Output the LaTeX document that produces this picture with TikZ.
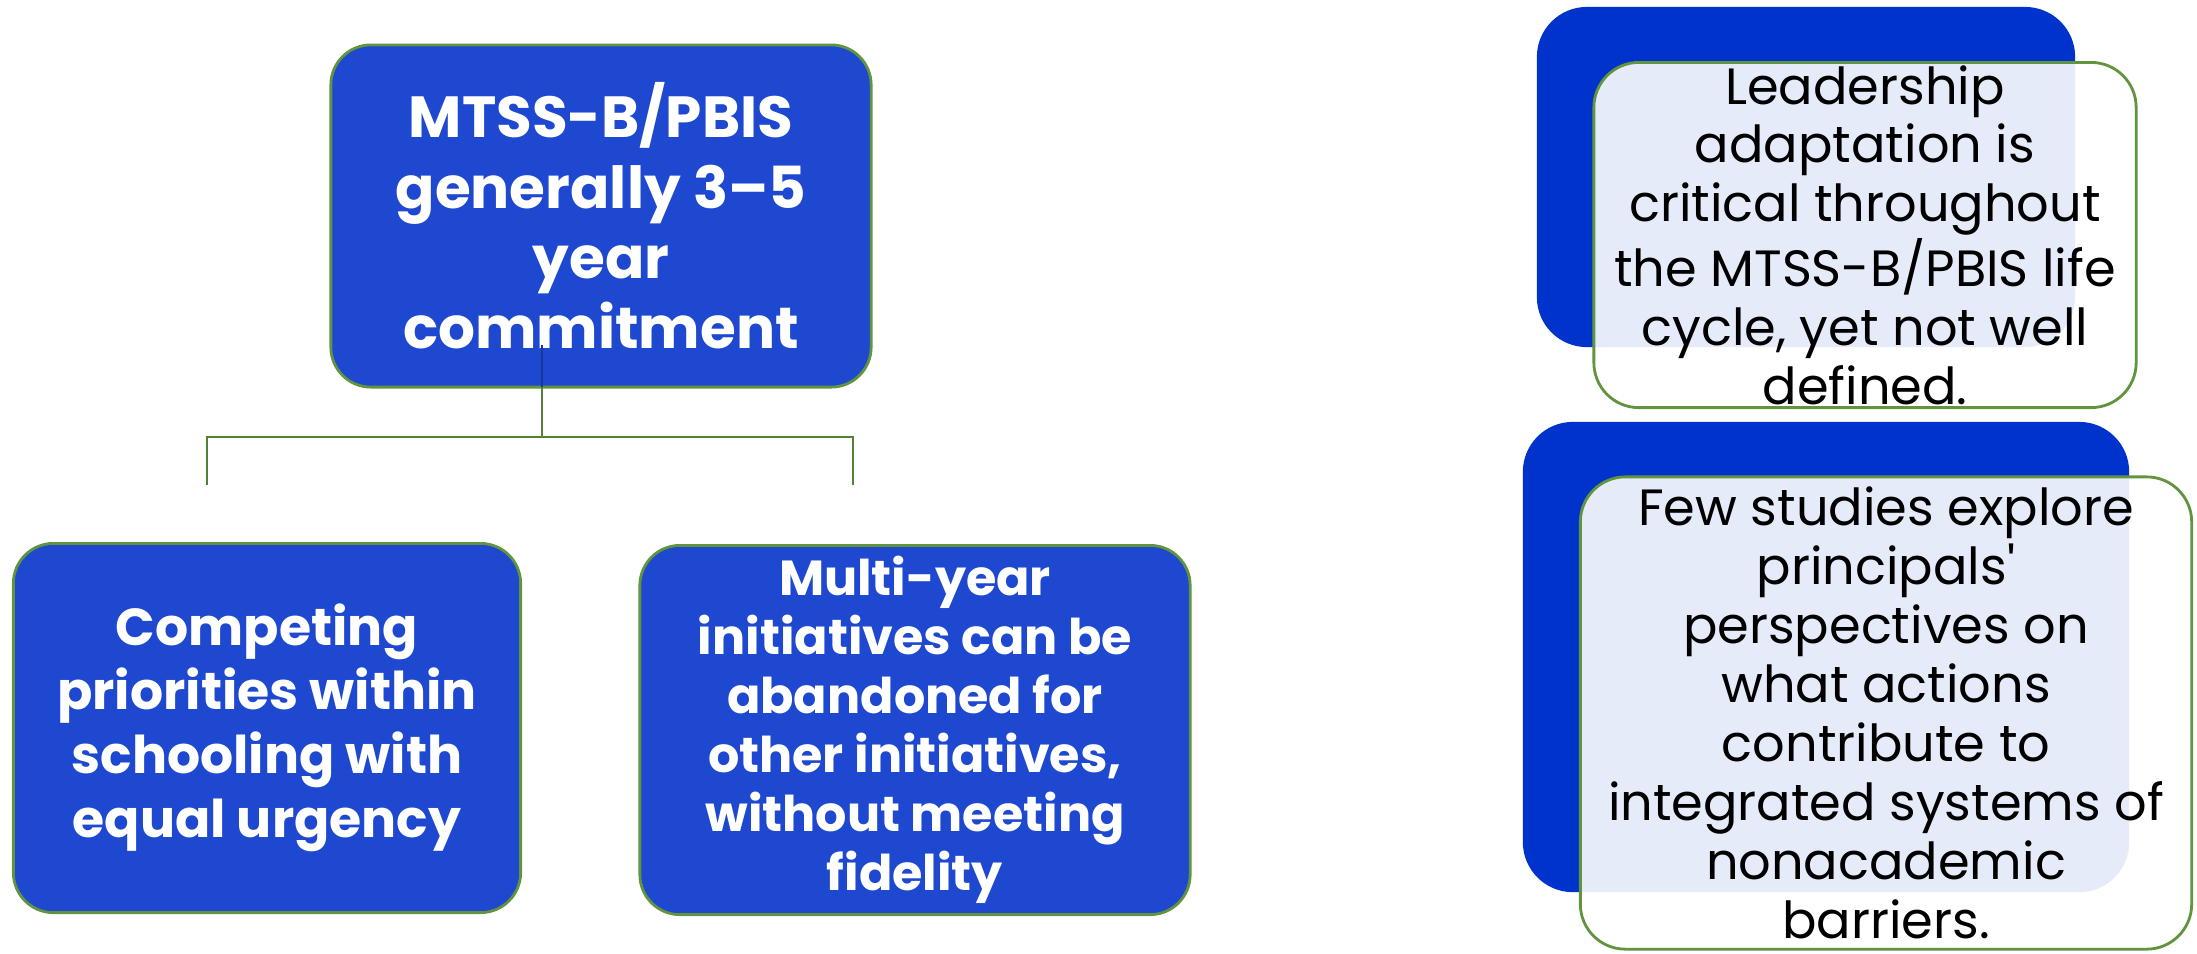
\documentclass[tikz,border=0pt]{standalone}
\usepackage{fontspec}
\setmainfont{Poppins}
\usetikzlibrary{positioning}
\definecolor{my_blue}{RGB}{30, 72, 208}
\definecolor{my_darkblue}{RGB}{0, 51, 204}
\definecolor{my_green}{RGB}{98, 148, 64}
\definecolor{my_linegreen}{RGB}{84, 130, 53}
\tikzset {
  box/.style = {draw=my_green, thick, fill=my_blue, text=white, rounded corners=0.4cm, rectangle, align=center, inner sep=0pt},
  backbox/.style = {fill=my_darkblue, rounded corners=0.5cm, rectangle, inner sep=0pt},
  note/.style = {draw=my_green, thick, fill=white, fill opacity=0.9, text opacity=1, text=black, rounded corners=0.45cm, rectangle, align=center, inner sep=0pt},
  line/.style = {thick, color=my_linegreen}
}
\begin{document}
\begin{tikzpicture}[x=0.01cm, y=-0.01cm]
    \useasboundingbox (0,0) rectangle (2197,953);

    % hierarchy on the left
    \node[box, minimum width=5.40cm, minimum height=3.42cm, font=\fontsize{16.5}{20}\selectfont\bfseries] (top) at (601,216) {MTSS-B/PBIS\\generally 3--5\\year\\commitment};
    \node[box, minimum width=5.07cm, minimum height=3.69cm, font=\fontsize{14.8}{18.2}\selectfont\bfseries] (left) at (267,728) {Competing\\priorities within\\schooling with\\equal urgency};
    \node[box, minimum width=5.50cm, minimum height=3.69cm, font=\fontsize{14}{16.8}\selectfont\bfseries] (right) at (915,730) {Multi-year\\initiatives can be\\abandoned for\\other initiatives,\\without meeting\\fidelity};

    \coordinate (stem) at (542,387);
    \coordinate (branch) at (542,437);
    \coordinate (dropL) at (207,485);
    \coordinate (dropR) at (853,485);
    \draw[thick, color=my_blue!75!black] (542,345) -- (stem);
    \draw[line] (stem) -- (branch) -| (dropL);
    \draw[line] (branch) -| (dropR);

    % notes on the right
    \node[backbox, minimum width=5.38cm, minimum height=3.40cm] (back1) at (1806,177) {};
    \node[note, minimum width=5.42cm, minimum height=3.45cm, font=\fontsize{14.5}{16.7}\selectfont] (note1) at (1865,235) {Leadership\\adaptation is\\critical throughout\\the MTSS-B/PBIS life\\cycle, yet not well\\defined.};

    \node[backbox, minimum width=6.06cm, minimum height=4.70cm] (back2) at (1826,657) {};
    \node[note, minimum width=6.11cm, minimum height=4.72cm, font=\fontsize{14.5}{16.8}\selectfont] (note2) at (1886,713) {Few studies explore\\principals\textquotesingle\\perspectives on\\what actions\\contribute to\\integrated systems of\\nonacademic\\barriers.};

\end{tikzpicture}
\end{document}
